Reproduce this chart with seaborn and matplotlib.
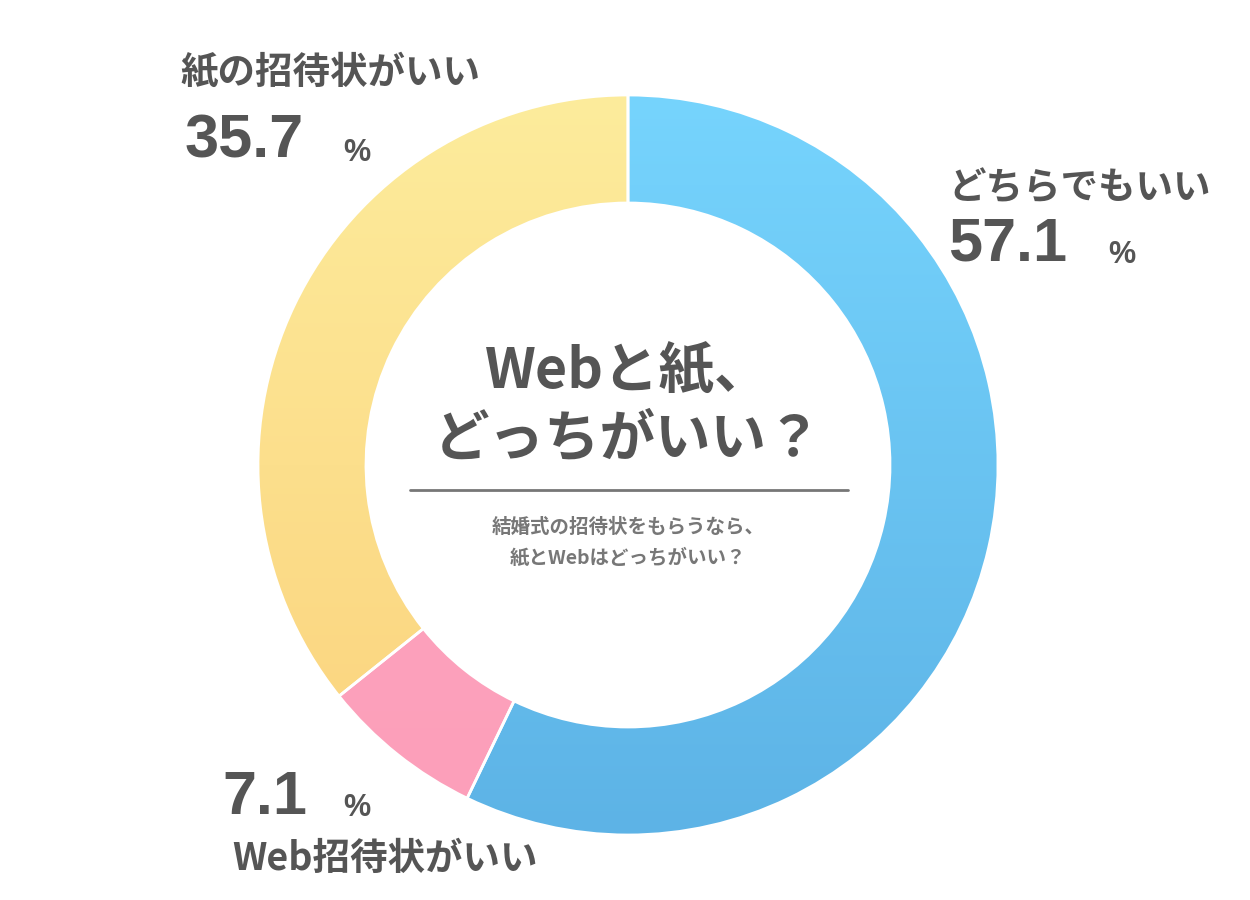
import numpy as np
import matplotlib
matplotlib.use("Agg")
import matplotlib.pyplot as plt
from matplotlib.patches import Wedge
from matplotlib.colors import LinearSegmentedColormap
import seaborn as sns

categories = ["どちらでもいい", "Web招待状がいい", "紙の招待状がいい"]
values = [57.1, 7.1, 35.7]
labels = ["57.1", "7.1", "35.7"]
top_colors = ["#76D4FD", "#FDA6C0", "#FDEC9C"]
bot_colors = ["#5DB3E6", "#FC9FBA", "#FBD27C"]

sns.set_theme(style="white", font="Noto Sans CJK JP")
fig = plt.figure(figsize=(12.5, 9), dpi=100)
ax = fig.add_axes([0, 0, 1, 1])
ax.set_xlim(0, 1250); ax.set_ylim(0, 900); ax.set_aspect("equal"); ax.axis("off")

cx, cy, R, W = 628, 435, 370, 108
total = sum(values)
start = 90.0
grad = np.linspace(0, 1, 256).reshape(-1, 1)
for v, tc, bc in zip(values, top_colors, bot_colors):
    sweep = 360 * v / total
    w = Wedge((cx, cy), R, start - sweep, start, width=W, facecolor="none", edgecolor="none")
    ax.add_patch(w)
    cmap = LinearSegmentedColormap.from_list("g", [tc, bc])
    im = ax.imshow(grad, cmap=cmap, extent=[cx - R, cx + R, cy - R, cy + R], origin="upper", aspect="auto", zorder=1)
    im.set_clip_path(w)
    ax.add_patch(Wedge((cx, cy), R, start - sweep, start, width=W, facecolor="none", edgecolor="white", lw=2, zorder=2))
    start -= sweep
ax.set_xlim(0, 1250); ax.set_ylim(0, 900)

c = "#555555"
fp = dict(fontweight="bold", color=c)
def y(p): return 900 - p
ax.text(628, y(372), "Webと紙、", ha="center", va="center", fontsize=40, **fp)
ax.text(628, y(440), "どっちがいい？", ha="center", va="center", fontsize=40, **fp)
ax.plot([410, 848], [y(490), y(490)], color="#777777", lw=2)
ax.text(628, y(527), "結婚式の招待状をもらうなら、", ha="center", va="center", fontsize=14, color="#777777", fontweight="bold")
ax.text(628, y(558), "紙とWebはどっちがいい？", ha="center", va="center", fontsize=14, color="#777777", fontweight="bold")

ax.text(948, y(188), categories[0], ha="left", va="center", fontsize=27, **fp)
ax.text(948, y(245), labels[0], ha="left", va="center", fontsize=44, fontfamily="Liberation Sans", **fp)
ax.text(1108, y(255), "%", ha="left", va="center", fontsize=22, fontfamily="Liberation Sans", **fp)

ax.text(180, y(72), categories[2], ha="left", va="center", fontsize=27, **fp)
ax.text(185, y(142), labels[2], ha="left", va="center", fontsize=44, fontfamily="Liberation Sans", **fp)
ax.text(343, y(153), "%", ha="left", va="center", fontsize=22, fontfamily="Liberation Sans", **fp)

ax.text(222, y(798), labels[1], ha="left", va="center", fontsize=44, fontfamily="Liberation Sans", **fp)
ax.text(343, y(808), "%", ha="left", va="center", fontsize=22, fontfamily="Liberation Sans", **fp)
ax.text(232, y(858), categories[1], ha="left", va="center", fontsize=27, **fp)

fig.savefig("out.png", dpi=100, facecolor="white")
